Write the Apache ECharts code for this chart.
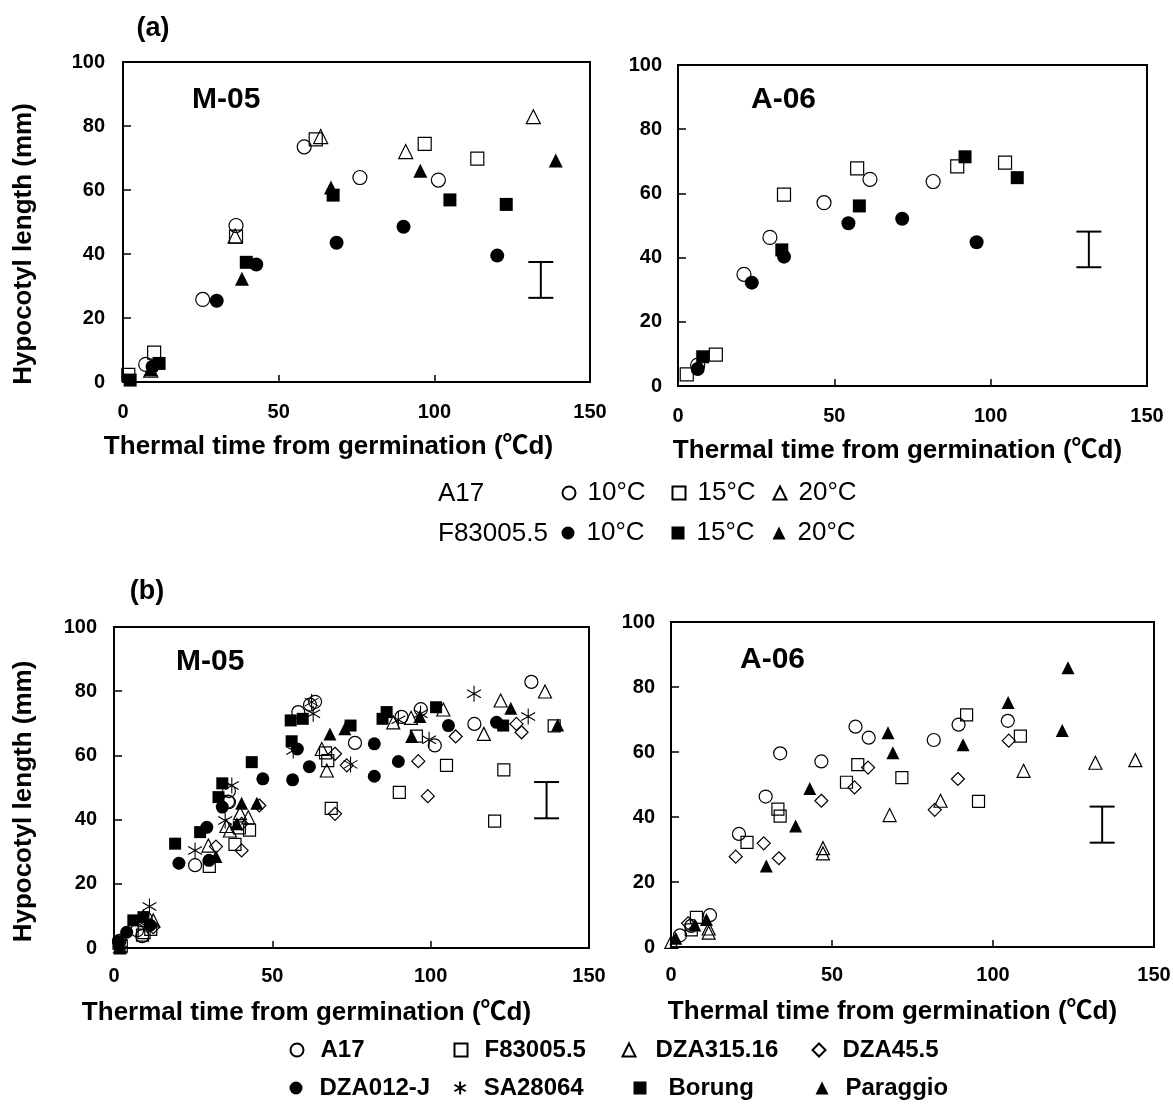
<!DOCTYPE html>
<html><head><meta charset="utf-8">
<script src="https://cdn.jsdelivr.net/npm/echarts/dist/echarts.min.js"></script>
<style>html,body{margin:0;padding:0;background:#fff}#c{width:1173px;height:1120px}</style>
</head><body><div id="c"></div>
<script>
// ---------- DATA ----------
const xTitle = 'Thermal time from germination (℃d)';
const yTitle = 'Hypocotyl length (mm)';
const panelLabels = ['(a)', '(b)'];
const sites = ['M-05', 'A-06'];
const temps = ['10°C', '15°C', '20°C'];
const genotypesA = ['A17', 'F83005.5'];
const genotypesB = ['A17', 'F83005.5', 'DZA315.16', 'DZA45.5', 'DZA012-J', 'SA28064', 'Borung', 'Paraggio'];

// (a) M-05
const aM05_A17_10 = [[7.3,5.5],[25.6,25.8],[36.3,48.9],[58.2,73.5],[76.1,63.9],[101.3,63.1]];
const aM05_A17_15 = [[1.7,2.2],[10,9.2],[36.3,45.4],[61.9,75.8],[96.9,74.4],[113.8,69.8]];
const aM05_A17_20 = [[8.9,3.7],[36,45.6],[63.5,76.7],[90.8,72],[131.8,82.9]];
const aM05_F_10 = [[9.5,4.8],[30.1,25.4],[42.8,36.7],[68.6,43.5],[90.1,48.5],[120.2,39.5]];
const aM05_F_15 = [[2.3,0.6],[11.6,5.8],[39.6,37.4],[67.5,58.4],[105,56.9],[123.1,55.5]];
const aM05_F_20 = [[9,4],[38.2,32.3],[66.8,60.8],[95.5,66],[139,69.2]];
// (a) A-06
const aA06_A17_10 = [[6.3,6.5],[21.1,34.8],[29.4,46.3],[46.7,57.1],[61.4,64.4],[81.6,63.7]];
const aA06_A17_15 = [[2.8,3.6],[12.1,9.8],[33.9,59.6],[57.3,67.8],[89.3,68.4],[104.6,69.6]];
const aA06_F_10 = [[6.3,5.3],[23.6,32.2],[33.9,40.3],[54.5,50.7],[71.7,52.1],[95.5,44.8]];
const aA06_F_15 = [[7.9,9.1],[33.2,42.4],[58,56.1],[91.8,71.4],[108.5,64.9]];

// (b) M-05 (A17 and F83005.5 are the pooled temperatures of panel a)
const bM05_DZA315 = [[1.9,0.5],[12.4,8.6],[29.8,31.9],[35.5,38],[36.6,36.6],[39.8,42],[42.4,40.7],[65.6,62],[67.2,55.3],[88.2,70.3],[93.8,71.7],[104,74.3],[116.8,66.7],[122.1,77.1],[136.1,79.9]];
const bM05_DZA45 = [[12.4,6.5],[32.2,31.6],[40.3,30.4],[40.3,38.7],[45.9,44.4],[69.8,41.8],[69.8,60.5],[73.5,56.9],[96.1,58.2],[99.1,47.3],[107.9,65.9],[127.1,69.8],[128.7,67.2]];
const bM05_DZA012 = [[1.4,2],[4,4.9],[11.4,7.1],[20.5,26.4],[29.3,37.6],[30,27.3],[34.2,43.9],[47,52.7],[56.4,52.4],[57.9,62],[61.7,56.5],[82.2,63.6],[82.2,53.5],[89.8,58.1],[105.6,69.3],[120.8,70.3]];
const bM05_SA = [[2,1.5],[11.2,12.9],[25.6,30.4],[35.1,39.7],[37.2,50.6],[56.6,61.5],[62.4,76.6],[62.9,73],[74.7,57.2],[89.8,71.1],[96.8,73],[99.5,64.9],[113.7,79.2],[130.8,72.1]];
const bM05_Borung = [[1.4,1.3],[6.1,8.6],[9.3,9.6],[19.3,32.5],[27.2,36.1],[33,47],[34.2,51.3],[43.5,57.9],[55.8,70.9],[56.1,64.4],[59.6,71.4],[74.7,69.3],[84.8,71.4],[86.1,73.5],[101.7,75],[122.9,69.3]];
const bM05_Paraggio = [[1.9,0],[9.3,10.1],[32.2,28.5],[38.8,38.7],[40.3,45.1],[45.1,45.1],[68.2,66.7],[72.9,68.3],[94,65.9],[96.6,72.1],[125.3,74.7],[140.1,69.5]];
// (b) A-06
const bA06_DZA315 = [[0.1,1.6],[11.7,4.4],[11.7,5.7],[47.2,28.8],[47.2,30.4],[67.9,40.6],[83.7,45],[109.5,54.2],[131.8,56.7],[144.2,57.5]];
const bA06_DZA45 = [[5.3,7.3],[20.1,27.8],[28.8,31.9],[33.5,27.3],[46.7,45],[57,49.1],[61.2,55.2],[81.9,42.2],[89.1,51.7],[104.9,63.5]];
const bA06_Paraggio = [[1.5,2.7],[7.4,6.8],[11,8.5],[29.6,24.9],[38.7,37.2],[43.1,48.8],[67.4,65.9],[68.9,59.8],[90.7,62.2],[104.7,75.2],[121.5,66.6],[123.3,85.9]];

// error bars [x, low, high]
const errA_M05 = [[134.2,26.3,37.5]];
const errA_A06 = [[131.4,37.0,48.1]];
const errB_M05 = [[136.6,40.4,51.7]];
const errB_A06 = [[133.9,32.1,43.2]];

// ---------- STYLE / BUILD ----------
const FONT = '"Liberation Sans", Arial, "Noto Sans CJK SC", sans-serif';
const STAR = 'path://M10,0L10,20M1.34,5L18.66,15M1.34,15L18.66,5';

function sty(filled, sym) {
  if (sym === STAR) return {color: 'rgba(0,0,0,0)', borderColor: '#000', borderWidth: 1.1, opacity: 1};
  return filled ? {color: '#000', borderColor: '#000', borderWidth: 0, opacity: 1}
                : {color: 'rgba(255,255,255,0)', borderColor: '#000', borderWidth: 1.2, opacity: 1};
}
function sc(name, data, sym, filled, gi, size) {
  return {name, type: 'scatter', data, symbol: sym, symbolSize: sym === STAR ? size + 3 : size, symbolKeepAspect: true,
    xAxisIndex: gi, yAxisIndex: gi, itemStyle: sty(filled, sym), silent: true, z: 3,
    emphasis: {disabled: true}};
}
function err(data, gi) {
  return {type: 'custom', xAxisIndex: gi, yAxisIndex: gi, data, silent: true, z: 2,
    encode: {x: 0, y: [1, 2]},
    renderItem: (p, api) => {
      const a = api.coord([api.value(0), api.value(1)]);
      const b = api.coord([api.value(0), api.value(2)]);
      const w = 12.5, st = {stroke: '#000', lineWidth: 2};
      return {type: 'group', children: [
        {type: 'line', shape: {x1: a[0], y1: a[1], x2: b[0], y2: b[1]}, style: st},
        {type: 'line', shape: {x1: a[0]-w, y1: a[1], x2: a[0]+w, y2: a[1]}, style: st},
        {type: 'line', shape: {x1: b[0]-w, y1: b[1], x2: b[0]+w, y2: b[1]}, style: st}
      ]};
    }};
}

const grids = [
  {left: 123, top: 62, width: 467, height: 320},
  {left: 678, top: 65, width: 469, height: 321},
  {left: 114, top: 627, width: 475, height: 321},
  {left: 671, top: 622, width: 483, height: 325}
].map(g => Object.assign(g, {show: true, borderColor: '#000', borderWidth: 2, backgroundColor: 'transparent', outerBoundsMode: 'none', containLabel: false}));

const xCfg = [
  {lm: 20, gap: 52, pad: 56},
  {lm: 20, gap: 52, pad: 30},
  {lm: 18, gap: 52, pad: 90},
  {lm: 18, gap: 52, pad: 40}
];
const xAxes = xCfg.map((c, i) => ({
  type: 'value', gridIndex: i, min: 0, max: 150, interval: 50,
  axisLine: {show: true, onZero: false, lineStyle: {color: '#000', width: 2}},
  axisTick: {show: true, inside: true, length: 7, lineStyle: {color: '#000', width: 1.5}},
  axisLabel: {margin: c.lm, color: '#000', fontFamily: FONT, fontWeight: 'bold', fontSize: 20},
  splitLine: {show: false},
  name: xTitle, nameLocation: 'middle', nameGap: c.gap, nameMoveOverlap: false,
  nameTextStyle: {color: '#000', fontFamily: FONT, fontWeight: 'bold', fontSize: 26, lineHeight: 26, padding: [0, c.pad, 0, 0]}
}));
const yCfg = [
  {lm: 18, name: yTitle, gap: 86, pad: 44},
  {lm: 16, name: '', gap: 0, pad: 0},
  {lm: 17, name: yTitle, gap: 77, pad: 28},
  {lm: 16, name: '', gap: 0, pad: 0}
];
const yAxes = yCfg.map((c, i) => ({
  type: 'value', gridIndex: i, min: 0, max: 100, interval: 20,
  axisLine: {show: true, onZero: false, lineStyle: {color: '#000', width: 2}},
  axisTick: {show: true, inside: true, length: 8, lineStyle: {color: '#000', width: 1.5}},
  axisLabel: {margin: c.lm, color: '#000', fontFamily: FONT, fontWeight: 'bold', fontSize: 20},
  splitLine: {show: false},
  name: c.name, nameLocation: 'middle', nameGap: c.gap, nameRotate: 90, nameMoveOverlap: false,
  nameTextStyle: {color: '#000', fontFamily: FONT, fontWeight: 'bold', fontSize: 26, lineHeight: 26, padding: [0, c.pad, 0, 0]}
}));

const SA = 14, SB = 13;
const series = [
  sc('A17 ' + temps[0], aM05_A17_10, 'circle', false, 0, SA),
  sc('A17 ' + temps[1], aM05_A17_15, 'rect', false, 0, SA-1),
  sc('A17 ' + temps[2], aM05_A17_20, 'triangle', false, 0, SA),
  sc('F83005.5 ' + temps[0], aM05_F_10, 'circle', true, 0, SA),
  sc('F83005.5 ' + temps[1], aM05_F_15, 'rect', true, 0, SA-1),
  sc('F83005.5 ' + temps[2], aM05_F_20, 'triangle', true, 0, SA),
  err(errA_M05, 0),
  sc('A17 ' + temps[0], aA06_A17_10, 'circle', false, 1, SA),
  sc('A17 ' + temps[1], aA06_A17_15, 'rect', false, 1, SA-1),
  sc('F83005.5 ' + temps[0], aA06_F_10, 'circle', true, 1, SA),
  sc('F83005.5 ' + temps[1], aA06_F_15, 'rect', true, 1, SA-1),
  err(errA_A06, 1),
  sc(genotypesB[0], aM05_A17_10.concat(aM05_A17_15, aM05_A17_20), 'circle', false, 2, SB),
  sc(genotypesB[1], aM05_F_10.concat(aM05_F_15, aM05_F_20), 'rect', false, 2, SB-1),
  sc(genotypesB[2], bM05_DZA315, 'triangle', false, 2, SB),
  sc(genotypesB[3], bM05_DZA45, 'diamond', false, 2, SB),
  sc(genotypesB[4], bM05_DZA012, 'circle', true, 2, SB),
  sc(genotypesB[5], bM05_SA, STAR, false, 2, SB),
  sc(genotypesB[6], bM05_Borung, 'rect', true, 2, SB-1),
  sc(genotypesB[7], bM05_Paraggio, 'triangle', true, 2, SB),
  err(errB_M05, 2),
  sc(genotypesB[0], aA06_A17_10.concat(aA06_A17_15), 'circle', false, 3, SB),
  sc(genotypesB[1], aA06_F_10.concat(aA06_F_15), 'rect', false, 3, SB-1),
  sc(genotypesB[2], bA06_DZA315, 'triangle', false, 3, SB),
  sc(genotypesB[3], bA06_DZA45, 'diamond', false, 3, SB),
  sc(genotypesB[7], bA06_Paraggio, 'triangle', true, 3, SB),
  err(errB_A06, 3)
];

// legends
function leg(name, cx, cy, fs, bold, padL, fmt) {
  return {data: [name], left: cx - 6.5, top: cy - fs / 2, itemWidth: 13, itemHeight: 13,
    selectedMode: false, orient: 'horizontal', padding: 0,
    formatter: fmt || (n => n),
    textStyle: {color: '#000', fontFamily: FONT, fontSize: fs, lineHeight: fs, fontWeight: bold ? 'bold' : 'normal', padding: [0, 0, 0, padL]}};
}
const tempFmt = n => n.split(' ')[1];
const legColsA = [568, 678, 779];
const legRowsA = [493, 533];
const legends = [];
genotypesA.forEach((g, r) => temps.forEach((t, c) => {
  legends.push(leg(g + ' ' + t, legColsA[c], legRowsA[r], 26, false, 7, tempFmt));
}));
const legPosB = [[296, 1050], [460, 1050], [628, 1050], [818, 1050],
                 [296, 1088], [460, 1088], [640, 1088], [822, 1088]];
const legPadB = [12, 12, 15, 12, 12, 12, 17, 12];
genotypesB.forEach((g, i) => legends.push(leg(g, legPosB[i][0], legPosB[i][1], 24, true, legPadB[i])));

function txt(s, x, y, fs, bold, align) {
  return {type: 'text', x, y, silent: true,
    style: {text: s, fill: '#000', font: (bold ? 'bold ' : '') + fs + 'px ' + FONT, textAlign: align || 'left', textVerticalAlign: 'middle'}};
}
const graphic = [
  txt(panelLabels[0], 153, 29, 27, true, 'center'),
  txt(panelLabels[1], 147, 592, 27, true, 'center'),
  txt(sites[0], 192, 100, 30, true),
  txt(sites[1], 751, 100, 30, true),
  txt(sites[0], 176, 662, 30, true),
  txt(sites[1], 740, 660, 30, true),
  txt(genotypesA[0], 438, 494, 26, false),
  txt(genotypesA[1], 438, 534, 26, false)
];

const chart = echarts.init(document.getElementById('c'), null, {renderer: 'canvas'});
chart.setOption({
  animation: false, backgroundColor: '#fff',
  grid: grids, xAxis: xAxes, yAxis: yAxes, series, legend: legends, graphic
});
</script></body></html>
